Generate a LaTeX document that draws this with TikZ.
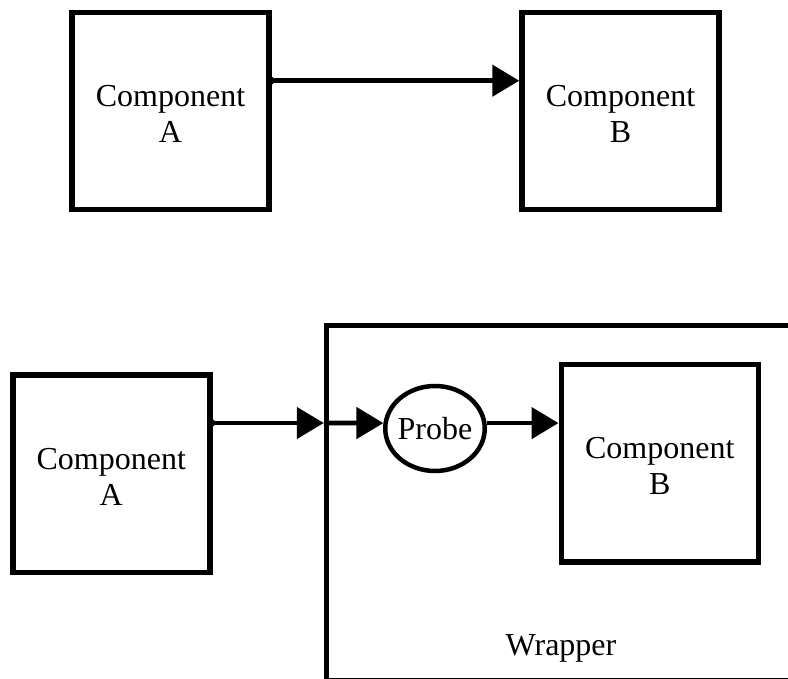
\documentclass[tikz,border=0pt]{standalone}
\usepackage{fontspec}
\setmainfont{Liberation Serif}
\usetikzlibrary{arrows.meta,shapes.geometric}
\begin{document}
\begin{tikzpicture}[x=1pt,y=-1pt,
  font=\fontsize{32}{36.5}\selectfont,
  comp/.style={draw,line width=5.5pt,minimum width=197pt,minimum height=197pt,
    inner sep=0pt,align=center},
  conn/.style={line width=4.8pt,
    {Circle[length=7pt]}-{Triangle[length=27pt,width=31pt]},shorten <=-3.5pt},
  plainconn/.style={line width=4.8pt,-{Triangle[length=27pt,width=31pt]}},
  probestyle/.style={draw,ellipse,line width=4.5pt,minimum width=99.5pt,
    minimum height=85pt,inner sep=0pt},
  ]
\useasboundingbox (0,0) rectangle (788,679);
\clip (0,0) rectangle (788,679);

% plain connection
\node[comp] (topA) at (170.5,111) {\rule{0pt}{27pt}Component\\A};
\node[comp] (topB) at (620.5,111) {\rule{0pt}{27pt}Component\\B};
\draw[conn] ([yshift=30.3pt]topA.east) -- ([yshift=30.3pt]topB.west);

% wrapped connection with probe
\node[draw,line width=5.5pt,minimum width=473.5pt,minimum height=355.5pt,inner sep=0pt]
  (wrapper) at (563.25,503.25) {};
\node[anchor=base] (wraplabel) at (561,655) {Wrapper};
\node[comp] (botA) at (111.25,473.75) {\rule{0pt}{27pt}Component\\A};
\node[comp] (botB) at (659.75,463.25) {\rule{0pt}{27pt}Component\\B};
\node[probestyle] (probe) at (435,428.5) {\makebox[0pt]{Probe}};

\draw[conn] ([yshift=50.75pt]botA.east) coordinate (s) -- (s -| wrapper.west);
\draw[plainconn] (s -| wrapper.west) -- (probe.174);
\draw[plainconn] (probe.6) -- (probe.6 -| botB.west);
\end{tikzpicture}
\end{document}
